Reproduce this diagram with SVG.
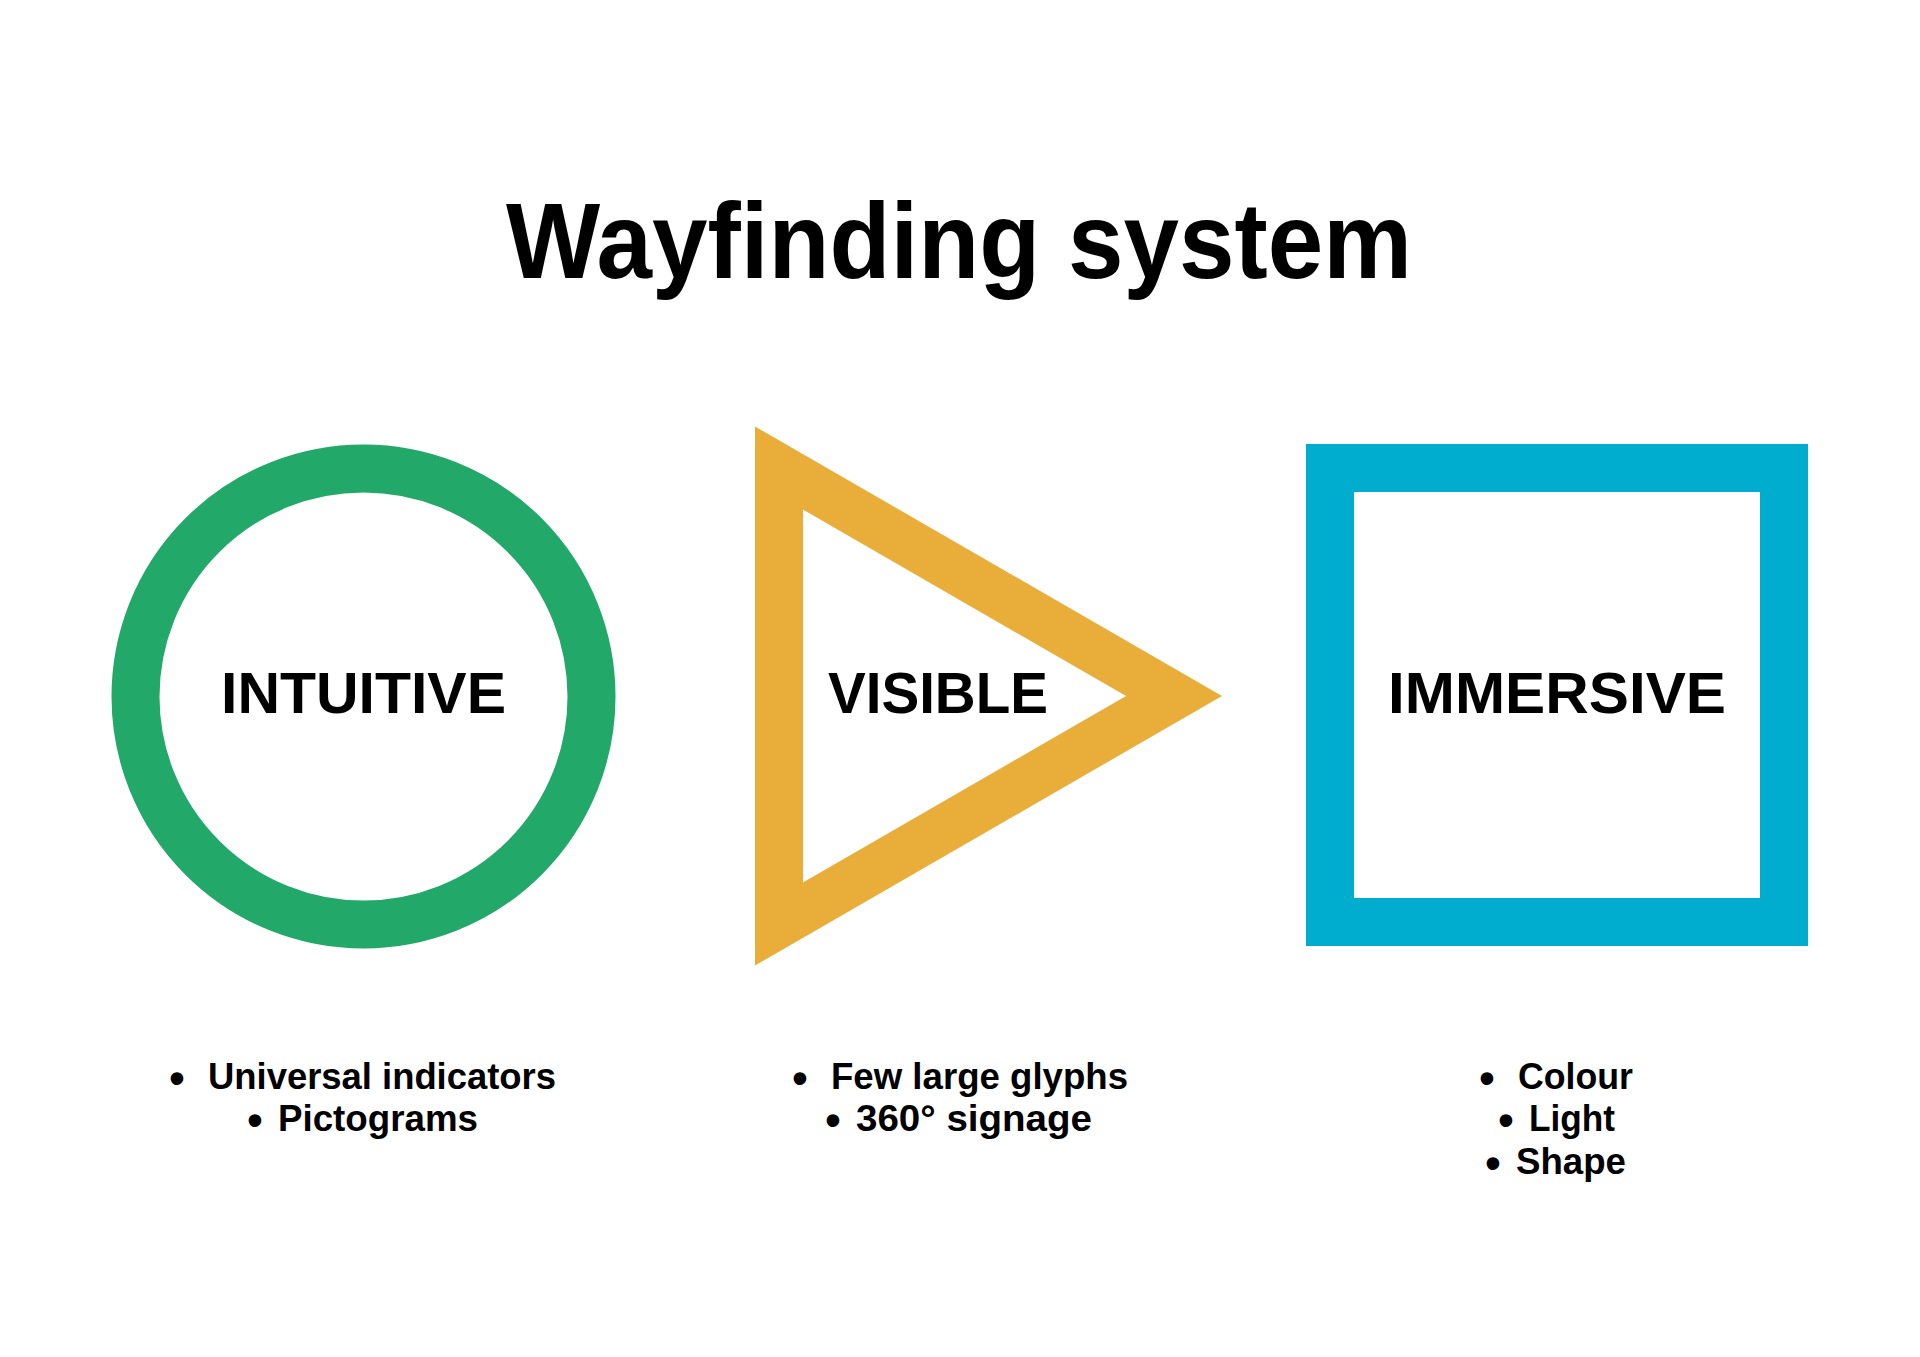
<svg xmlns="http://www.w3.org/2000/svg" width="1920" height="1357" viewBox="0 0 1920 1357">
<style>
  .bg { fill: #ffffff; }
  .title { font-family: "Liberation Sans", Arial, sans-serif; font-weight: bold; font-size: 108px; fill: #000; }
  .label { font-family: "Liberation Sans", Arial, sans-serif; font-weight: bold; font-size: 58px; fill: #000; }
  .item { font-family: "Liberation Sans", Arial, sans-serif; font-weight: bold; font-size: 37px; fill: #000; }
  .bullet { font-family: "Liberation Sans", Arial, sans-serif; font-weight: bold; font-size: 44px; fill: #000; text-anchor: middle; }
  .ring { fill: none; stroke: #22A868; stroke-width: 48; }
  .tri { fill: none; stroke: #E9AE3A; stroke-width: 48; stroke-linejoin: miter; stroke-miterlimit: 4; }
  .sq { fill: none; stroke: #00ADCF; stroke-width: 48; stroke-linejoin: miter; }
</style>
<rect class="bg" x="0" y="0" width="1920" height="1357"/>

<g id="title">
  <text class="title" x="506" y="278" textLength="906" lengthAdjust="spacingAndGlyphs">Wayfinding system</text>
</g>

<g id="connectors"></g>

<g id="node-intuitive">
  <circle class="ring" cx="363.5" cy="696.5" r="228"/>
  <text class="label" x="221" y="713" textLength="285" lengthAdjust="spacingAndGlyphs">INTUITIVE</text>
</g>

<g id="node-visible">
  <polygon class="tri" points="779,468 779,924 1174,696"/>
  <text class="label" x="828" y="713" textLength="220" lengthAdjust="spacingAndGlyphs">VISIBLE</text>
</g>

<g id="node-immersive">
  <rect class="sq" x="1330" y="468" width="454" height="454"/>
  <text class="label" x="1388" y="713" textLength="338" lengthAdjust="spacingAndGlyphs">IMMERSIVE</text>
</g>

<g id="list-intuitive">
  <text class="bullet" x="177" y="1093">•</text>
  <text class="item" x="208" y="1089" textLength="348" lengthAdjust="spacingAndGlyphs">Universal indicators</text>
  <text class="bullet" x="255" y="1135">•</text>
  <text class="item" x="278" y="1131" textLength="200" lengthAdjust="spacingAndGlyphs">Pictograms</text>
</g>

<g id="list-visible">
  <text class="bullet" x="800" y="1093">•</text>
  <text class="item" x="831" y="1089" textLength="297" lengthAdjust="spacingAndGlyphs">Few large glyphs</text>
  <text class="bullet" x="833" y="1135">•</text>
  <text class="item" x="856" y="1131" textLength="236" lengthAdjust="spacingAndGlyphs">360° signage</text>
</g>

<g id="list-immersive">
  <text class="bullet" x="1487" y="1093">•</text>
  <text class="item" x="1518" y="1089" textLength="115" lengthAdjust="spacingAndGlyphs">Colour</text>
  <text class="bullet" x="1506" y="1135">•</text>
  <text class="item" x="1529" y="1131" textLength="86" lengthAdjust="spacingAndGlyphs">Light</text>
  <text class="bullet" x="1493" y="1178">•</text>
  <text class="item" x="1516" y="1174" textLength="110" lengthAdjust="spacingAndGlyphs">Shape</text>
</g>
</svg>
